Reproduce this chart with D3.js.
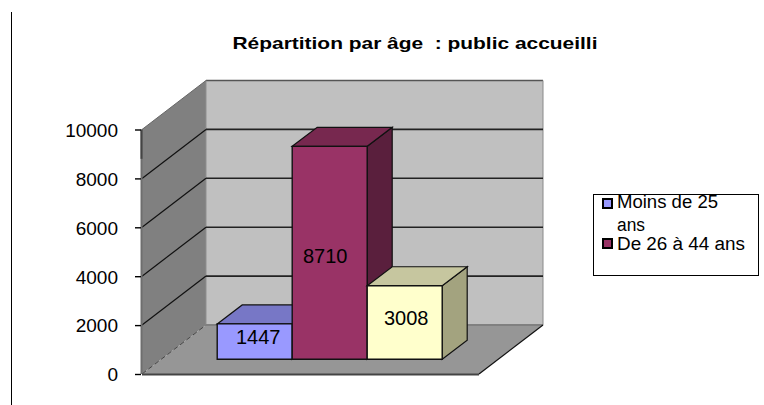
<!DOCTYPE html>
<html><head><meta charset="utf-8">
<script src="https://cdn.jsdelivr.net/npm/d3@7/dist/d3.min.js"></script>
<style>html,body{margin:0;background:#fff}svg{display:block}text{font-family:"Liberation Sans",Arial,sans-serif;fill:#000;white-space:pre}</style>
</head><body><svg id="c" width="764" height="405"></svg>
<script>
const chartTitle = "Répartition par âge  : public accueilli";
const categories = ["Moins de 25 ans", "De 26 à 44 ans", "45 ans et plus"];
const values = [1447, 8710, 3008];
const barColors = ["#9999ff", "#993366", "#ffffcc"];
const barTops = ["#7777c6", "#77284f", "#c6c69f"];
const barSides = ["#55558e", "#5a1f3d", "#a3a37f"];
const yTicks = [0, 2000, 4000, 6000, 8000, 10000];
const legendLines = [["Moins de 25", "ans"], ["De 26 à 44 ans"]];

const svg = d3.select("#c");
const frontX = 142, wallW = 337, y0 = 374, y1 = 129.5;
const DX = 64, DY = -49;
const y = d3.scaleLinear().domain([0, 10000]).range([y0, y1]);
const h = v => y0 - y(v);
const poly = (pts, fill, stroke, sw) => svg.append("polygon")
  .attr("points", pts.map(p => p.join(",")).join(" "))
  .attr("fill", fill).attr("stroke", stroke || "none").attr("stroke-width", sw || 0);

// walls
poly([[frontX, y0], [frontX + DX, y0 + DY], [frontX + DX, y1 + DY], [frontX, y1]], "#808080");
poly([[frontX + DX, y0 + DY], [frontX + DX + wallW, y0 + DY], [frontX + DX + wallW, y1 + DY], [frontX + DX, y1 + DY]], "#c0c0c0");
poly([[frontX, y0], [frontX + wallW, y0], [frontX + wallW + DX, y0 + DY], [frontX + DX, y0 + DY]], "#969696");

// edges of the walls
const seg = (x1, y1_, x2, y2, c, w) => svg.append("line").attr("x1", x1).attr("y1", y1_).attr("x2", x2).attr("y2", y2)
  .attr("stroke", c).attr("stroke-width", w);
seg(frontX + DX, y1 + DY, frontX + DX + wallW, y1 + DY, "#555", 1.5);
seg(frontX + DX + wallW, y1 + DY, frontX + DX + wallW, y0 + DY, "#8a8a8a", 1);
seg(frontX + DX, y1 + DY, frontX + DX, y0 + DY, "#8f8f8f", 1);
seg(frontX + DX, y0 + DY, frontX + DX + wallW, y0 + DY, "#808080", 2);
seg(frontX, y1, frontX + DX, y1 + DY, "#666", 1);
seg(frontX, y0, frontX + DX, y0 + DY, "#444", 1).attr("stroke-dasharray", "5 3");
seg(frontX + wallW, y0, frontX + wallW + DX, y0 + DY, "#111", 1.2);

// gridlines
yTicks.filter(t => t > 0 && t < 10000).forEach(t => {
  seg(frontX, y(t), frontX + DX, y(t) + DY, "#111", 1.2);
  seg(frontX + DX, y(t) + DY, frontX + DX + wallW, y(t) + DY, "#222", 1.6);
});

// axis
seg(frontX - 0.5, y0, frontX - 0.5, y1, "#6e6e6e", 2);
seg(frontX - 0.5, y1, frontX - 0.5, y(8800), "#444", 2);
seg(frontX, y0 + 0.5, frontX + wallW, y0 + 0.5, "#444", 2);
svg.append("g").attr("transform", `translate(${frontX - 1},0)`)
  .call(d3.axisLeft(y).tickValues(yTicks).tickSize(6).tickPadding(17).tickFormat(d3.format("d")))
  .call(g => g.select(".domain").remove())
  .call(g => g.selectAll("line").attr("stroke", "#000").attr("stroke-width", 1.4))
  .call(g => g.selectAll("text").attr("font-size", 19).attr("font-family", "Liberation Sans").attr("dy", "0.36em"));

// bars
const barDepth = 0.3;
const x = d3.scaleBand().domain(categories).range([frontX + DX * barDepth, frontX + DX * barDepth + wallW]).paddingInner(0).paddingOuter(0.7467);
const baseY = y0 + DY * barDepth;
const bx = 25, by = -19;
const labelNudgeX = [3.5, -4.5, 1.5];
const labelNudgeY = [2.5, 10.5, 2];
categories.forEach((c, i) => {
  const l = x(c), w = x.bandwidth(), r = l + w, t = baseY - h(values[i]);
  poly([[r, baseY], [r + bx, baseY + by], [r + bx, t + by], [r, t]], barSides[i], "#111", 1.2);
  poly([[l, t], [l + bx, t + by], [r + bx, t + by], [r, t]], barTops[i], "#111", 1.2);
  poly([[l, baseY], [r, baseY], [r, t], [l, t]], barColors[i], "#111", 1.4);
  svg.append("text").attr("x", l + w / 2 + labelNudgeX[i]).attr("y", (baseY + t) / 2 + labelNudgeY[i]).attr("text-anchor", "middle")
    .attr("font-size", 20).text(values[i]);
});

// title
svg.append("text").attr("x", 415).attr("y", 49).attr("text-anchor", "middle").attr("font-size", 16.5)
  .attr("font-weight", "bold").attr("textLength", 365).attr("lengthAdjust", "spacingAndGlyphs").text(chartTitle);

// legend
svg.append("rect").attr("x", 593.5).attr("y", 194.5).attr("width", 165).attr("height", 81)
  .attr("fill", "#fff").attr("stroke", "#000").attr("stroke-width", 1);
const swatchY = [199, 239];
const lineY = [[208, 231], [250]];
[0, 1].forEach(i => {
  svg.append("rect").attr("x", 603).attr("y", swatchY[i]).attr("width", 9).attr("height", 9)
    .attr("fill", barColors[i]).attr("stroke", "#000").attr("stroke-width", 2);
  legendLines[i].forEach((s, k) => {
    svg.append("text").attr("x", 617).attr("y", lineY[i][k]).attr("font-size", 18)
      .attr("textLength", s.length > 5 ? (i ? 128 : 101) : 28).attr("lengthAdjust", "spacingAndGlyphs").text(s);
  });
});

// stray rule at the left edge
seg(11.5, 12, 11.5, 405, "#000", 1);
</script></body></html>
